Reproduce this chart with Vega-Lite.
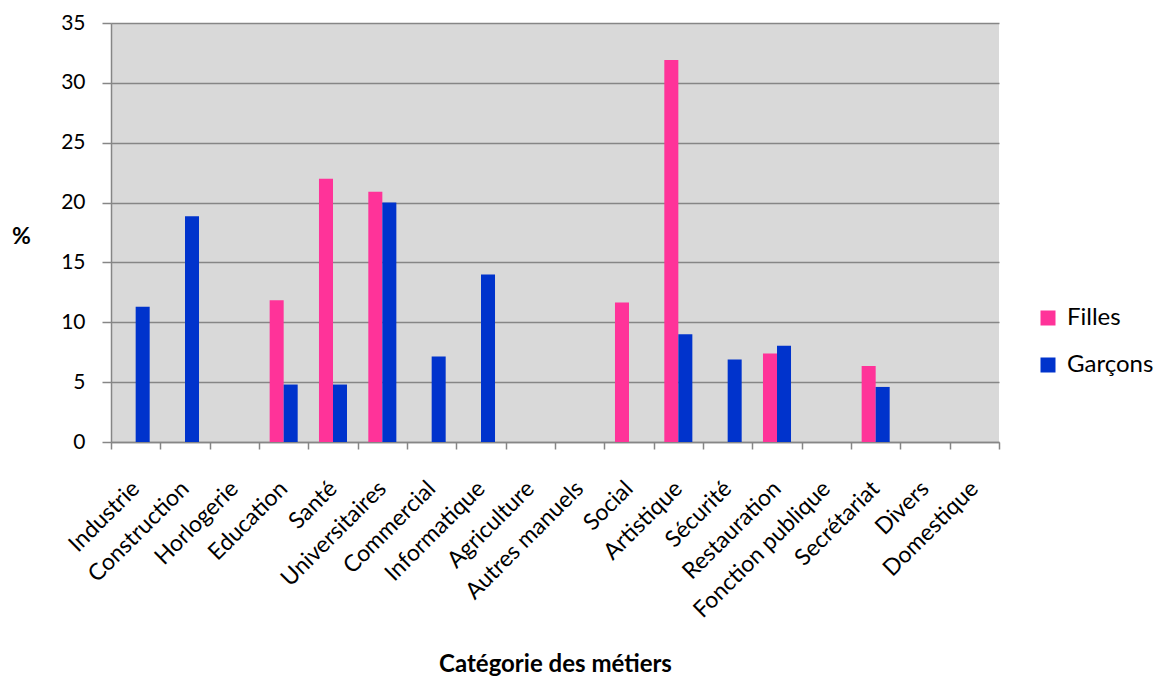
{
  "$schema": "https://vega.github.io/schema/vega-lite/v6.json",
  "autosize": "none",
  "width": 888,
  "height": 419,
  "padding": {"left": 111, "top": 23, "right": 155, "bottom": 235},
  "background": "white",
  "config": {
    "font": "Lato",
    "view": {"fill": "#D9D9D9", "stroke": null}
  },
  "data": {
    "values": [
      {"metier": "Industrie", "sexe": "Garçons", "pct": 11.3},
      {"metier": "Construction", "sexe": "Garçons", "pct": 18.85},
      {"metier": "Education", "sexe": "Filles", "pct": 11.85},
      {"metier": "Education", "sexe": "Garçons", "pct": 4.8},
      {"metier": "Santé", "sexe": "Filles", "pct": 22.0},
      {"metier": "Santé", "sexe": "Garçons", "pct": 4.8},
      {"metier": "Universitaires", "sexe": "Filles", "pct": 20.9},
      {"metier": "Universitaires", "sexe": "Garçons", "pct": 20.0},
      {"metier": "Commercial", "sexe": "Garçons", "pct": 7.15},
      {"metier": "Informatique", "sexe": "Garçons", "pct": 14.0},
      {"metier": "Social", "sexe": "Filles", "pct": 11.65},
      {"metier": "Artistique", "sexe": "Filles", "pct": 31.9},
      {"metier": "Artistique", "sexe": "Garçons", "pct": 9.0},
      {"metier": "Sécurité", "sexe": "Garçons", "pct": 6.9},
      {"metier": "Restauration", "sexe": "Filles", "pct": 7.4},
      {"metier": "Restauration", "sexe": "Garçons", "pct": 8.05},
      {"metier": "Secrétariat", "sexe": "Filles", "pct": 6.35},
      {"metier": "Secrétariat", "sexe": "Garçons", "pct": 4.6}
    ]
  },
  "mark": {"type": "bar"},
  "encoding": {
    "x": {
      "field": "metier",
      "type": "nominal",
      "scale": {
        "domain": ["Industrie", "Construction", "Horlogerie", "Education", "Santé", "Universitaires", "Commercial", "Informatique", "Agriculture", "Autres manuels", "Social", "Artistique", "Sécurité", "Restauration", "Fonction publique", "Secrétariat", "Divers", "Domestique"],
        "paddingInner": 0,
        "paddingOuter": 0
      },
      "axis": {
        "title": "Catégorie des métiers",
        "titleFontSize": 24,
        "titleFontWeight": "bold",
        "titleColor": "black",
        "titleAnchor": "middle",
        "titleBaseline": "alphabetic",
        "titleY": 229,
        "labelAngle": -45,
        "labelFontSize": 23,
        "labelColor": "black",
        "labelLimit": 400,
        "labelPadding": 28,
        "labelOffset": -8,
        "tickBand": "extent",
        "tickSize": 7,
        "tickColor": "#868686",
        "tickWidth": 1.5,
        "domainColor": "#868686",
        "domainWidth": 1.5,
        "grid": false
      }
    },
    "xOffset": {
      "field": "sexe",
      "type": "nominal",
      "scale": {"domain": ["Filles", "Garçons"], "paddingInner": 0, "paddingOuter": 0.76}
    },
    "y": {
      "field": "pct",
      "type": "quantitative",
      "scale": {"domain": [0, 35], "nice": false},
      "axis": {
        "values": [0, 5, 10, 15, 20, 25, 30, 35],
        "title": "%",
        "titleAngle": 0,
        "titleX": -90,
        "titleY": 213,
        "titleAlign": "center",
        "titleBaseline": "middle",
        "titleFontSize": 23,
        "titleFontWeight": "bold",
        "titleColor": "black",
        "labelFontSize": 21,
        "labelColor": "black",
        "labelPadding": 17,
        "tickSize": 9,
        "tickColor": "#868686",
        "tickWidth": 1.5,
        "domainColor": "#868686",
        "domainWidth": 1.5,
        "grid": true,
        "gridColor": "#868686",
        "gridWidth": 1.5
      }
    },
    "color": {
      "field": "sexe",
      "type": "nominal",
      "scale": {"domain": ["Filles", "Garçons"], "range": ["#FF3399", "#0033CC"]},
      "legend": {
        "title": null,
        "orient": "none",
        "legendX": 925,
        "legendY": 283,
        "symbolType": "square",
        "symbolSize": 225,
        "symbolStrokeWidth": 0,
        "symbolOpacity": 1,
        "labelFontSize": 24,
        "labelColor": "black",
        "labelOffset": 7,
        "rowPadding": 23
      }
    }
  }
}
